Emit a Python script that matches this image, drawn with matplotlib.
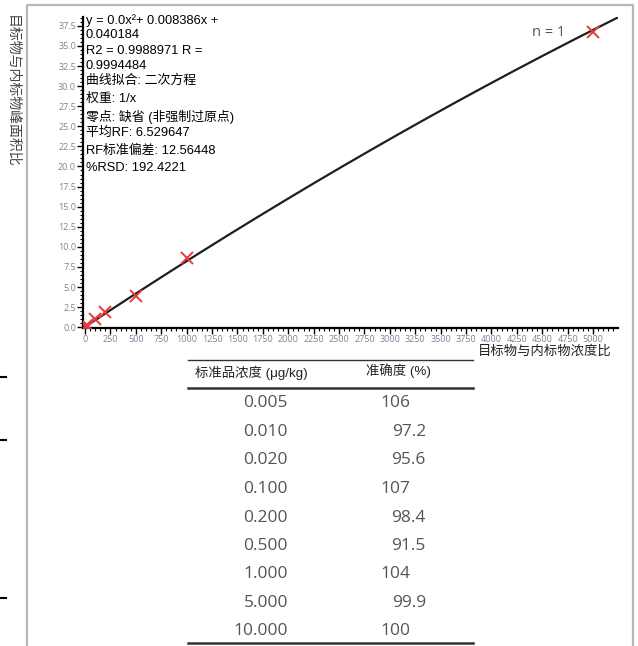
import numpy as np
import matplotlib
matplotlib.use("Agg")
import matplotlib.pyplot as plt
from matplotlib.ticker import MultipleLocator

plt.rcParams['font.family'] = ['Liberation Sans', 'Noto Sans CJK SC', 'DejaVu Sans']

# 校准点 (目标物/内标物浓度比, 峰面积比)
ratio_x = [5, 10, 20, 100, 200, 500, 1000, 5000]
ratio_y = [0.08, 0.12, 0.25, 1.05, 1.85, 3.9, 8.6, 36.7]

# 二次拟合系数 a, b, c
fit_coef = [-1.99e-7, 0.008386, 0.040184]

info_lines = [
    "y = 0.0x²+ 0.008386x +",
    "0.040184",
    "R2 = 0.9988971 R =",
    "0.9994484",
    "曲线拟合: 二次方程",
    "权重: 1/x",
    "零点: 缺省 (非强制过原点)",
    "平均RF: 6.529647",
    "RF标准偏差: 12.56448",
    "%RSD: 192.4221",
]

# 表格
table_header = ["标准品浓度 (μg/kg)", "准确度 (%)"]
std_conc = ["0.005", "0.010", "0.020", "0.100", "0.200", "0.500", "1.000", "5.000", "10.000"]
accuracy = ["106", "97.2", "95.6", "107", "98.4", "91.5", "104", "99.9", "100"]

W, H = 638, 646
fig = plt.figure(figsize=(W / 100, H / 100), dpi=100)

# 像素坐标的底层画布，用于边框和表格
bg = fig.add_axes([0, 0, 1, 1])
bg.set_xlim(0, W)
bg.set_ylim(H, 0)
bg.axis("off")

# 灰色外框
bg.plot([27, 27, 633, 633], [H + 5, 5, 5, H + 5], color="#b8b8b8", lw=1.6, solid_capstyle="butt")
# 左侧小短线
for yy in [377, 440, 598]:
    bg.plot([0, 6], [yy, yy], color="black", lw=1.5)

# 主图
ax = fig.add_axes([83 / W, (H - 328) / H, 535 / W, 311 / H])
ax.set_facecolor("none")
ax.set_xlim(-20, 5245)
ax.set_ylim(-0.1, 38.6)

xs = np.linspace(0, 5245, 300)
ax.plot(xs, np.polyval(fit_coef, xs), color="#1e1e1e", lw=1.6, zorder=2)
ax.plot(ratio_x, ratio_y, linestyle="none", marker="x", color="#e83a3a",
        markersize=8, markeredgewidth=1.4, zorder=3)

for side in ["top", "right"]:
    ax.spines[side].set_visible(False)
for side in ["left", "bottom"]:
    ax.spines[side].set_linewidth(1.6)
    ax.spines[side].set_color("black")

ax.xaxis.set_minor_locator(MultipleLocator(50))
ax.yaxis.set_minor_locator(MultipleLocator(0.5))
ax.set_xticks(np.arange(0, 5001, 250))
ax.set_yticks(np.arange(0, 37.6, 2.5))
ax.set_yticklabels([f"{v:.1f}" for v in np.arange(0, 37.6, 2.5)])
ax.tick_params(which="major", direction="out", length=4, width=1, color="black",
               labelsize=6.5, labelcolor="#7a8496", pad=1.0)
ax.tick_params(which="minor", direction="out", length=2.5, width=0.8, color="black")
for lab in ax.get_xticklabels() + ax.get_yticklabels():
    lab.set_family("Open Sans")

# 左上角拟合信息
y0 = 21
step = [14, 16, 15, 15, 18, 18, 16, 18, 17]
yy = y0
for i, line in enumerate(info_lines):
    bg.text(86, yy, line, fontsize=9.3, color="black", ha="left", va="center")
    if i < len(step):
        yy += step[i]

bg.text(532, 33, "n = 1", fontsize=10.5, color="#555555", ha="left", va="center",
        family="Open Sans")

# 坐标轴标题
bg.text(12, 15, "目标物与内标物峰面积比", rotation=-90, fontsize=10, color="#444444",
        ha="center", va="top", family=["Noto Sans CJK SC"])
bg.text(612, 351, "目标物与内标物浓度比", fontsize=9.6, color="#222222",
        ha="right", va="center", family=["Noto Sans CJK SC"])

# 表格
bg.plot([188, 473], [360, 360], color="#333333", lw=1.0)
bg.plot([188, 473], [388, 388], color="#333333", lw=1.8)
bg.plot([188, 473], [643, 643], color="#333333", lw=1.8)
bg.text(195, 373, table_header[0], fontsize=9.6, color="#222222", ha="left", va="center")
bg.text(366, 371, table_header[1], fontsize=9.6, color="#222222", ha="left", va="center")

row_y = [403, 432, 460, 489, 518, 546, 574, 603, 631]
for ry, c, a in zip(row_y, std_conc, accuracy):
    bg.text(288, ry, c, fontsize=12.5, color="#555555", ha="right", va="center",
            family="Open Sans")
    ax_x = 426 if "." in a else 410
    bg.text(ax_x, ry, a, fontsize=12.5, color="#555555", ha="right", va="center",
            family="Open Sans")

fig.savefig("out.png", dpi=100)
